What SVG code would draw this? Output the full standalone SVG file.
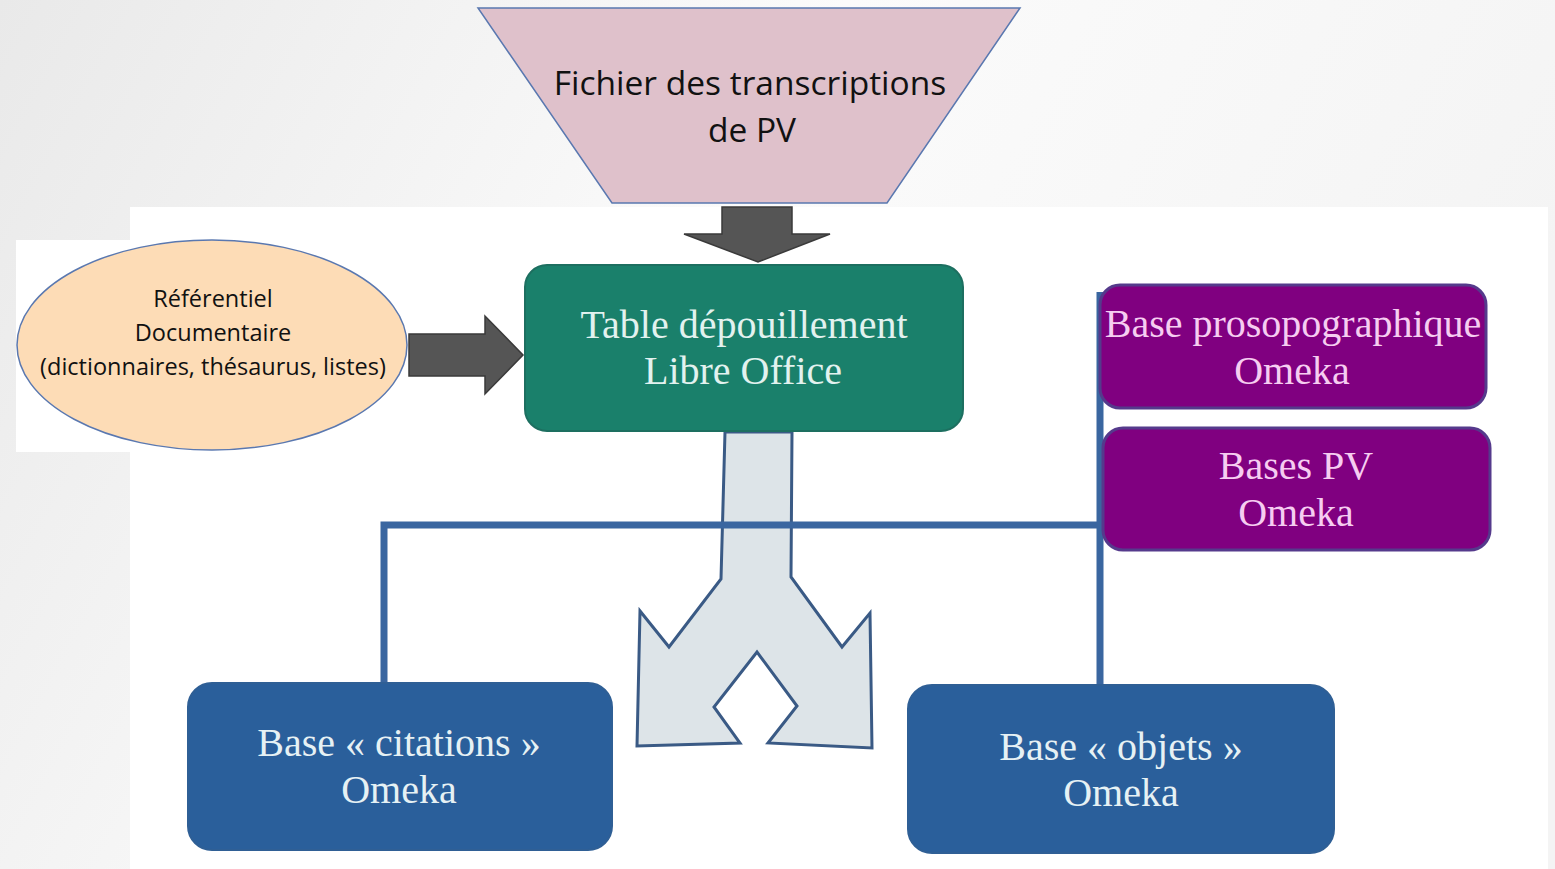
<svg xmlns="http://www.w3.org/2000/svg" width="1555" height="869" viewBox="0 0 1555 869">
<defs>
<linearGradient id="bg" x1="0" y1="0" x2="1" y2="0.3">
<stop offset="0" stop-color="#e9e9e9"/>
<stop offset="0.5" stop-color="#fbfbfb"/>
<stop offset="1" stop-color="#f4f4f4"/>
</linearGradient>
<style>
.serif{font-family:"Liberation Serif","Times New Roman",serif;text-anchor:middle;font-size:40px}
.sans{font-family:"Open Sans","Liberation Sans",sans-serif;text-anchor:middle;fill:#111}
.conn{stroke:#3a66a0;stroke-width:7;fill:none}
.dark{fill:#555;stroke:#3a3a3a;stroke-width:1.5}
</style>
</defs>
<rect width="1555" height="869" fill="url(#bg)"/>
<rect x="130" y="207" width="1418" height="662" fill="#ffffff"/>
<rect x="16" y="240" width="114" height="212" fill="#ffffff"/>

<g id="split-arrow">
<path d="M725,432 L792,432 L791,577 L842,647 L870,613 L872,748 L768,743 L797,706 L757,652 L714,707 L740,743 L637,746 L640,611 L669,647 L721,579 Z" fill="#dde4e8" stroke="#3a5a85" stroke-width="3" stroke-linejoin="miter"/>
</g>

<g id="connectors">
<polyline class="conn" points="384,683 384,525 1100,525"/>
<line class="conn" x1="1100" y1="292" x2="1100" y2="686"/>
<polygon class="dark" points="722,207 792,207 792,234 830,234 758,262 684,234 722,234"/>
<polygon class="dark" points="409,334 485,334 485,316 523,355 485,394 485,376 409,376"/>
</g>

<g id="fichier">
<polygon points="478,8 1020,8 887,203 612,203" fill="#dfc1cb" stroke="#5a78b0" stroke-width="1.5"/>
<text class="sans" x="750" y="95" font-size="33.5">Fichier des transcriptions</text>
<text class="sans" x="752" y="142" font-size="33.5">de PV</text>
</g>

<g id="referentiel">
<ellipse cx="212" cy="345" rx="195" ry="105" fill="#fddcb6" stroke="#5a78b0" stroke-width="1.5"/>
<text class="sans" x="213" y="307" font-size="23.5">Référentiel</text>
<text class="sans" x="213" y="341" font-size="23.5">Documentaire</text>
<text class="sans" x="213" y="375" font-size="23.5">(dictionnaires, thésaurus, listes)</text>
</g>

<g id="table">
<rect x="525" y="265" width="438" height="166" rx="22" fill="#1a806b" stroke="#1d6f60" stroke-width="2"/>
<text class="serif" x="744" y="338" fill="#e2f2ef">Table dépouillement</text>
<text class="serif" x="743" y="384" fill="#e2f2ef">Libre Office</text>
</g>

<g id="prosopo">
<rect x="1100" y="285" width="386" height="123" rx="20" fill="#800080" stroke="#553a8c" stroke-width="3"/>
<text class="serif" x="1293" y="337" fill="#f6cdf1">Base prosopographique</text>
<text class="serif" x="1292" y="384" fill="#f6cdf1">Omeka</text>
</g>

<g id="pv">
<rect x="1103" y="428" width="387" height="122" rx="20" fill="#800080" stroke="#553a8c" stroke-width="3"/>
<text class="serif" x="1296" y="479" fill="#f6cdf1">Bases PV</text>
<text class="serif" x="1296" y="526" fill="#f6cdf1">Omeka</text>
</g>

<g id="citations">
<rect x="188" y="683" width="424" height="167" rx="24" fill="#2a5f9b" stroke="#2f5f95" stroke-width="2"/>
<text class="serif" x="399" y="756" fill="#e6f1f4">Base « citations »</text>
<text class="serif" x="399" y="803" fill="#e6f1f4">Omeka</text>
</g>

<g id="objets">
<rect x="908" y="685" width="426" height="168" rx="24" fill="#2a5f9b" stroke="#2f5f95" stroke-width="2"/>
<text class="serif" x="1121" y="760" fill="#e6f1f4">Base « objets »</text>
<text class="serif" x="1121" y="806" fill="#e6f1f4">Omeka</text>
</g>
</svg>
